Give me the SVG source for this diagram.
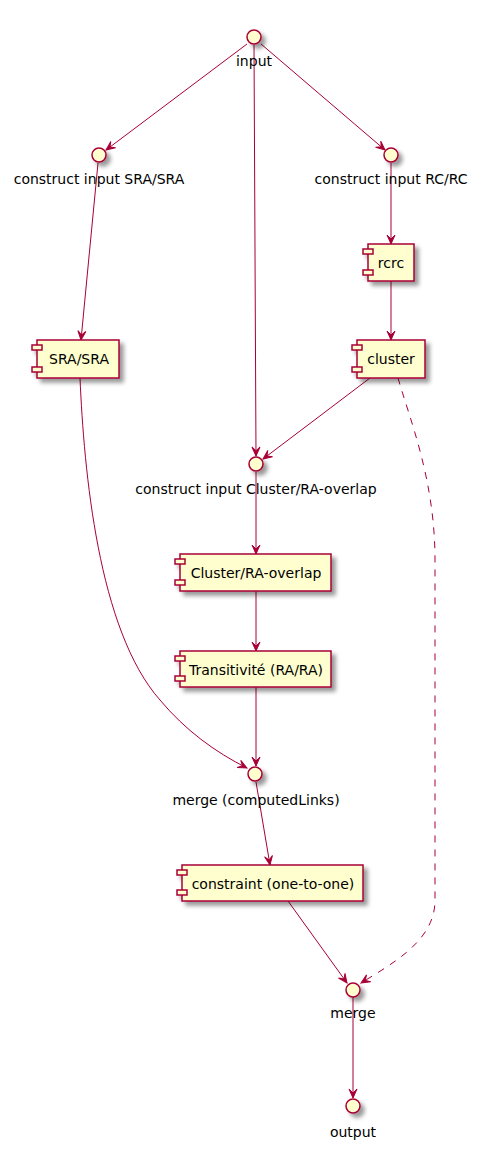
<svg xmlns="http://www.w3.org/2000/svg" width="479" height="1149" viewBox="0 0 479 1149">
<style>
.n{fill:#FEFECE;stroke:#A80036;stroke-width:1.5}
.c{fill:none;stroke:#A80036;stroke-width:1}
.d{stroke-dasharray:7,7}
text{font-family:"DejaVu Sans","Liberation Sans",sans-serif;font-size:14px;fill:#000000;text-anchor:middle}
</style>
<defs>
<filter id="sh" x="-1" y="-1" width="300%" height="300%">
<feGaussianBlur in="SourceAlpha" stdDeviation="2" result="b"/>
<feColorMatrix in="b" type="matrix" values="0 0 0 0 0  0 0 0 0 0  0 0 0 0 0  0 0 0 0.4 0" result="c"/>
<feOffset in="c" dx="4" dy="4" result="o"/>
<feMerge><feMergeNode in="o"/><feMergeNode in="SourceGraphic"/></feMerge>
</filter>
<marker id="ah" viewBox="-10 -5 11 10" refX="0" refY="0" markerWidth="11" markerHeight="10" markerUnits="userSpaceOnUse" orient="auto">
<path d="M0,0 L-9,-4 L-5,0 L-9,4 Z" fill="#A80036" stroke="#A80036" stroke-width="1"/>
</marker>
</defs>
<g id="connectors">
<path class="c" d="M247,44 L106,150" marker-end="url(#ah)"/>
<path class="c" d="M261,44 L385,150" marker-end="url(#ah)"/>
<path class="c" d="M254,45 L256,456" marker-end="url(#ah)"/>
<path class="c" d="M98,163 L81,340" marker-end="url(#ah)"/>
<path class="c" d="M391,163 L391,244" marker-end="url(#ah)"/>
<path class="c" d="M391,281 L391,340" marker-end="url(#ah)"/>
<path class="c" d="M370,378 L263,459" marker-end="url(#ah)"/>
<path class="c d" d="M398,378 C410,420 435,480 435,560 L435,900 C435,940 395,962 361,983" marker-end="url(#ah)"/>
<path class="c" d="M256,472 L256,554" marker-end="url(#ah)"/>
<path class="c" d="M256,591 L256,651" marker-end="url(#ah)"/>
<path class="c" d="M256,687 L256,766" marker-end="url(#ah)"/>
<path class="c" d="M80,378 C84,470 98,630 160,700 C185,730 215,752 247,768" marker-end="url(#ah)"/>
<path class="c" d="M256,782 L270,865" marker-end="url(#ah)"/>
<path class="c" d="M288,901 L347,983" marker-end="url(#ah)"/>
<path class="c" d="M353,997 L353,1098" marker-end="url(#ah)"/>
</g>
<g id="input"><circle class="n" filter="url(#sh)" cx="254" cy="37" r="7"/><text x="254" y="66">input</text></g>
<g id="ci_sra"><circle class="n" filter="url(#sh)" cx="99" cy="155" r="7"/><text x="99" y="184">construct input SRA/SRA</text></g>
<g id="ci_rc"><circle class="n" filter="url(#sh)" cx="391" cy="155" r="7"/><text x="391" y="184">construct input RC/RC</text></g>
<g id="rcrc"><g filter="url(#sh)"><rect class="n" x="368" y="244" width="46" height="37"/><rect class="n" x="363" y="249" width="10" height="5"/><rect class="n" x="363" y="270" width="10" height="5"/></g><text x="391" y="268">rcrc</text></g>
<g id="cluster"><g filter="url(#sh)"><rect class="n" x="357" y="340" width="68" height="38"/><rect class="n" x="352" y="345" width="10" height="5"/><rect class="n" x="352" y="367" width="10" height="5"/></g><text x="391" y="364">cluster</text></g>
<g id="sra"><g filter="url(#sh)"><rect class="n" x="37" y="340" width="82" height="38"/><rect class="n" x="32" y="345" width="10" height="5"/><rect class="n" x="32" y="367" width="10" height="5"/></g><text x="79" y="364">SRA/SRA</text></g>
<g id="ci_cluster"><circle class="n" filter="url(#sh)" cx="256" cy="464" r="7"/><text x="256" y="494">construct input Cluster/RA-overlap</text></g>
<g id="cluster_ra"><g filter="url(#sh)"><rect class="n" x="180" y="554" width="151" height="37"/><rect class="n" x="175" y="559" width="10" height="5"/><rect class="n" x="175" y="580" width="10" height="5"/></g><text x="256" y="578">Cluster/RA-overlap</text></g>
<g id="transitivite"><g filter="url(#sh)"><rect class="n" x="180" y="651" width="151" height="36"/><rect class="n" x="175" y="656" width="10" height="5"/><rect class="n" x="175" y="676" width="10" height="5"/></g><text x="256" y="675">Transitivité (RA/RA)</text></g>
<g id="merge_computed"><circle class="n" filter="url(#sh)" cx="255" cy="774" r="7"/><text x="256" y="805">merge (computedLinks)</text></g>
<g id="constraint"><g filter="url(#sh)"><rect class="n" x="182" y="865" width="181" height="36"/><rect class="n" x="177" y="870" width="10" height="5"/><rect class="n" x="177" y="890" width="10" height="5"/></g><text x="273" y="889">constraint (one-to-one)</text></g>
<g id="merge"><circle class="n" filter="url(#sh)" cx="353" cy="990" r="7"/><text x="353" y="1018">merge</text></g>
<g id="output"><circle class="n" filter="url(#sh)" cx="353" cy="1106" r="7"/><text x="353" y="1137">output</text></g>
</svg>
